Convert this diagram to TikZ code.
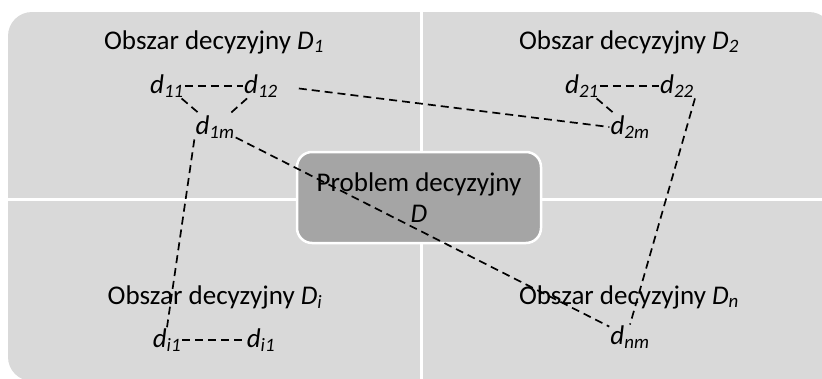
\documentclass[tikz,border=0pt]{standalone}
\usepackage{fontspec}
\setmainfont{Carlito}
\definecolor{panelgray}{HTML}{D9D9D9}
\definecolor{boxgray}{HTML}{A5A5A5}
\tikzstyle{area} = [font=\fontsize{27}{32}\selectfont, inner sep=1pt]
\tikzstyle{elem} = [font=\fontsize{27}{32}\selectfont\itshape, inner sep=1pt]
\tikzstyle{problem} = [rectangle, rounded corners=15pt, minimum width=244pt, minimum height=91pt, align=center, fill=boxgray, draw=white, line width=2.5pt, font=\fontsize{27}{31}\selectfont]
\tikzstyle{link} = [dash pattern=on 8pt off 5pt, line width=1.7pt]
\tikzstyle{divider} = [white, line width=2.5pt]
\newcommand{\dEl}[1]{d\textsubscript{#1}}

\begin{document}
\begin{tikzpicture}[x=1pt, y=-1pt]
\useasboundingbox (0,0) rectangle (822,378);
% background panels
\begin{scope}
\clip (0,0) rectangle (822,378);
\fill[panelgray, rounded corners=24pt] (8,12) rectangle (833,381);
\fill[panelgray] (760,330) rectangle (840,390);
\draw[divider] (421.3,0) -- (421.3,390);
\draw[divider] (0,199.3) -- (840,199.3);
\end{scope}

\node[problem] (prob) at (419,197.5) {Problem decyzyjny\\\textit{D}};

\node[area] (areaA) at (214,42) {Obszar decyzyjny \textit{D\textsubscript{1}}};
\node[area] (areaB) at (629,42) {Obszar decyzyjny \textit{D\textsubscript{2}}};
\node[area] (areaC) at (215,297) {Obszar decyzyjny \textit{D\textsubscript{i}}};
\node[area] (areaD) at (629,297) {Obszar decyzyjny \textit{D\textsubscript{n}}};

\node[elem] (d11) at (167,86) {\dEl{11}};
\node[elem] (d12) at (261,86) {\dEl{12}};
\node[elem] (d1m) at (215,127) {\dEl{1m}};
\node[elem] (d21) at (582,86) {\dEl{21}};
\node[elem] (d22) at (677,86) {\dEl{22}};
\node[elem] (d2m) at (630,127) {\dEl{2m}};
\node[elem] (di1) at (167,340) {\dEl{i1}};
\node[elem] (di1b) at (261,340) {\dEl{i1}};
\node[elem] (dnm) at (630,337) {\dEl{nm}};

% links
\draw[link] (d11) -- (d12);
\draw[link] (d11) -- (d1m);
\draw[link] (d12) -- (d1m);
\draw[link] (d21) -- (d22);
\draw[link] (d21) -- (d2m);
\draw[link, shorten <=20pt] (d12.east) -- (d2m.west);
\draw[link] (d1m) -- (dnm);
\draw[link] (d1m.south west) -- (di1.north);
\draw[link] (d22.south east) -- (dnm.north);
\draw[link] (di1) -- (di1b);
\end{tikzpicture}
\end{document}
